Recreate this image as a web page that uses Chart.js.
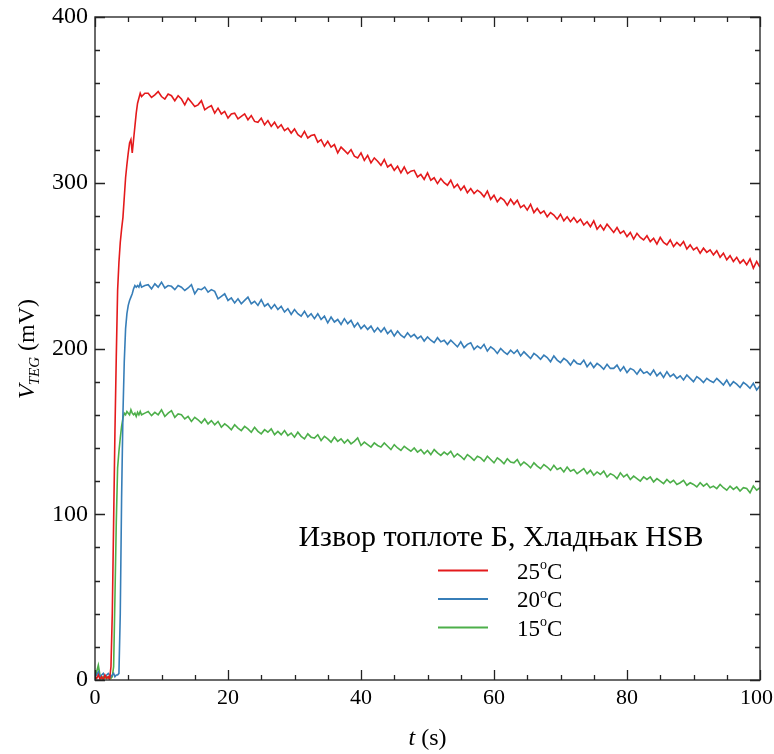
<!DOCTYPE html>
<html>
<head>
<meta charset="utf-8">
<script src="https://cdn.jsdelivr.net/npm/chart.js@4/dist/chart.umd.min.js"></script>
<style>
  html, body { margin: 0; padding: 0; background: #fff; }
  #wrap { width: 774px; height: 754px; }
</style>
</head>
<body>
<div id="wrap"><canvas id="c" width="774" height="754"></canvas></div>
<script>
// ---------- DATA ----------
const seriesLabels = ['25', '20', '15'];
const seriesColors = ['#e41a1c', '#377eb8', '#4daf4a'];
const legendTitle = 'Извор топлоте Б, Хладњак HSB';
const xTicks = [0, 20, 40, 60, 80, 100];
const yTicks = [0, 100, 200, 300, 400];

// start-up segment (s)
const riseTimes = [0, 0.25, 0.5, 0.75, 1.0, 1.25, 1.5, 1.75, 2.0, 2.2, 2.4, 2.6, 2.8, 3.0, 3.2, 3.4, 3.6, 3.8,
  4.0, 4.2, 4.4, 4.6, 4.8, 5.0, 5.2, 5.4, 5.6, 5.8, 6.0, 6.2, 6.4, 6.6, 6.8, 7.0, 7.5];
const rise25 = [2, 1, 3, 0.5, 2, 0, 3, 1, 2, 0.5, 8, 40, 95, 150, 195, 235, 252, 264,
  272, 279, 291, 303, 311, 318, 324, 326, 318, 326, 334, 342, 348, 351, 354, 352, 354];
const rise20 = [4, 3, 5, 2, 3, 4, 2, 3, 4, 3, 2, 3, 4, 2, 3, 3, 4, 40,
  110, 160, 192, 212, 221, 226, 229, 231, 233, 236, 238, 237, 238, 237, 239.5, 237, 238];
const rise15 = [2, 5, 9, 3, 1, 2, 1, 2, 1, 2, 1, 2, 8, 50, 95, 128, 138, 146,
  153, 158, 161, 160, 162, 161, 160, 163, 161, 160, 161, 159, 161.5, 160, 162, 160, 161];

// decay segment: t = 8.0 s ... 100 s, every 0.5 s
const decayStart = 8.0, decayStep = 0.5;
const decay25 = [
  354, 351.5, 353, 355, 352, 350.5, 353.5, 352.5, 349.5, 352.5,
  350.5, 347, 351, 348.5, 346, 347, 349.5, 344, 345.5, 346.5,
  342, 345, 341.5, 343, 339, 341.5, 342, 338.5, 340, 341.5,
  338, 340.5, 337, 336.5, 339, 335, 337.5, 334, 336.5, 333,
  335, 331.5, 333, 330, 332.5, 329, 327.5, 331, 327, 328.5,
  329, 324.5, 326, 322, 325, 321.5, 323, 318, 321.5, 319.5,
  317.5, 320, 316, 315, 318, 313.5, 316.5, 312, 315, 313,
  310.5, 314, 309.5, 311, 307.5, 310, 306, 309.5, 305.5, 307,
  307.5, 303.5, 305, 302, 306, 301.5, 303, 299.5, 302.5, 300,
  298.5, 301.5, 297, 299, 295.5, 298, 294, 296.5, 293.5, 295.5,
  294, 291.5, 295, 290, 292.5, 288.5, 291, 289.5, 286.5, 290,
  287, 289.5, 285, 286.5, 283.5, 287, 282, 284.5, 281.5, 283,
  279.5, 282, 280.5, 278, 281, 277, 279.5, 276.5, 279, 276,
  278, 274.5, 276.5, 273.5, 277, 272, 274.5, 271.5, 275, 272.5,
  270, 273, 269.5, 271, 267.5, 270, 266, 269.5, 267, 265.5,
  268, 264.5, 266.5, 263, 267, 264, 262.5, 265.5, 261.5, 264,
  262, 264.5, 260, 262.5, 259.5, 261, 257.5, 260.5, 258, 259.5,
  256.5, 259, 255, 257.5, 253.5, 256, 252.5, 255, 251.5, 253.5,
  250.5, 254, 248.5, 252.5, 249
];
const decay20 = [
  238.5, 236, 239, 237, 240, 236.5, 238, 237.5, 235.5, 238,
  237, 235, 236.5, 238.5, 233, 236, 235.5, 237, 234, 235.5,
  234.5, 230, 231.5, 233, 229, 230.5, 227.5, 230, 227, 229,
  231, 227, 228.5, 226, 229.5, 225.5, 227, 224, 226.5, 223.5,
  225.5, 222, 224, 220.5, 223.5, 221, 219.5, 222.5, 219, 221,
  218, 221, 217.5, 219.5, 215.5, 219, 216, 217.5, 214.5, 218,
  215, 217, 213, 215.5, 212, 214, 211.5, 213.5, 210, 212.5,
  210, 212.5, 209, 211, 207.5, 210.5, 208, 206.5, 209.5, 207,
  208.5, 206, 207.5, 204.5, 207, 205, 203.5, 206.5, 204, 205,
  202.5, 205, 203, 201, 204, 200.5, 202.5, 203.5, 199.5, 201.5,
  200, 202.5, 198.5, 201, 199.5, 197, 200, 198, 196.5, 199,
  197, 199, 195.5, 198, 196, 194, 197, 195.5, 193.5, 196,
  194.5, 192, 195.5, 193, 191.5, 194, 192.5, 190, 193, 191,
  190.5, 193, 189, 191.5, 188.5, 191, 189.5, 187.5, 190.5, 188,
  188, 190, 186.5, 189, 185.5, 188, 187, 184.5, 187.5, 185,
  186, 184, 187, 183.5, 185.5, 182.5, 186, 183, 184.5, 182,
  183.5, 181, 184, 182, 180, 183, 181.5, 179.5, 182, 180.5,
  179.5, 182, 180, 178, 181, 177.5, 180, 178.5, 176.5, 179.5,
  178, 176, 179, 175, 177.5
];
const decay15 = [
  162, 159.5, 161.5, 160, 163, 159, 161, 162.5, 158.5, 160.5,
  160, 157.5, 159, 156, 158.5, 157, 155, 157.5, 154.5, 156.5,
  154, 156, 152.5, 154.5, 153, 151, 154, 152, 150.5, 153,
  151.5, 149.5, 152.5, 150, 148.5, 151, 149.5, 151.5, 148, 150,
  148, 150.5, 147.5, 149, 146.5, 149.5, 147, 145.5, 148.5, 146.5,
  146, 148, 144.5, 147, 145.5, 143.5, 146.5, 144, 145.5, 143,
  145, 142.5, 144, 146, 141.5, 143.5, 142, 140.5, 143, 141.5,
  140.5, 143, 141, 139, 142, 140, 138.5, 141, 139.5, 138,
  140, 137.5, 139, 136.5, 138.5, 136, 139, 137, 135.5, 137.5,
  136, 138, 134.5, 136.5, 135, 133, 136, 134.5, 132.5, 135,
  134, 132, 135, 133, 131, 134, 132.5, 130.5, 133.5, 131.5,
  131, 133, 129.5, 131.5, 130, 128, 131, 129, 127.5, 130,
  128.5, 126.5, 129.5, 127, 128, 125.5, 128.5, 126, 127, 124.5,
  126, 127.5, 124.5, 126.5, 123.5, 125.5, 124, 126, 122.5, 124.5,
  123.5, 121.5, 125, 122.5, 124, 121, 123, 121.5, 120, 122.5,
  121, 122.5, 119.5, 121.5, 120, 118.5, 121, 119, 120.5, 118,
  119, 120.5, 117.5, 119, 118, 116.5, 119, 117, 118.5, 116,
  117, 115.5, 118, 116, 114.5, 117, 115, 116.5, 114, 116,
  115.5, 113, 117, 114.5, 116
];

// ---------- BUILD ----------
function buildPoints(riseVals, decayVals) {
  const pts = riseTimes.map((t, i) => ({ x: t, y: riseVals[i] }));
  decayVals.forEach((v, i) => pts.push({ x: decayStart + i * decayStep, y: v }));
  return pts;
}
const allSeries = [[rise25, decay25], [rise20, decay20], [rise15, decay15]];

const SERIF = '"Liberation Serif", "DejaVu Serif", serif';
const PLOT = { left: 95, top: 17, right: 14, xAxisH: 74 };
const xMinorStep = 5, yMinorStep = 20;

const framePlugin = {
  id: 'framePlugin',
  afterDatasetsDraw(chart) {
    const { ctx, chartArea: a, scales: { x, y } } = chart;
    ctx.save();
    ctx.strokeStyle = '#3a3a3a';
    ctx.lineWidth = 1.5;
    ctx.strokeRect(a.left, a.top, a.right - a.left, a.bottom - a.top);
    ctx.lineWidth = 1.3;
    ctx.strokeStyle = '#222';
    ctx.beginPath();
    for (let v = x.min; v <= x.max + 1e-9; v += xMinorStep) {
      const px = Math.round(x.getPixelForValue(v)) + 0.5;
      const len = xTicks.includes(v) ? 10 : 5;
      ctx.moveTo(px, a.bottom); ctx.lineTo(px, a.bottom - len);
      ctx.moveTo(px, a.top); ctx.lineTo(px, a.top + len);
    }
    for (let v = y.min; v <= y.max + 1e-9; v += yMinorStep) {
      const py = Math.round(y.getPixelForValue(v)) + 0.5;
      const len = yTicks.includes(v) ? 10 : 5;
      ctx.moveTo(a.left, py); ctx.lineTo(a.left + len, py);
      ctx.moveTo(a.right, py); ctx.lineTo(a.right - len, py);
    }
    ctx.stroke();

    ctx.fillStyle = '#000';
    // x tick labels (kept inside the canvas at the right edge)
    ctx.font = '22px ' + SERIF;
    ctx.textBaseline = 'top';
    ctx.textAlign = 'left';
    xTicks.forEach(v => {
      const s = String(v);
      const w = ctx.measureText(s).width;
      let lx = x.getPixelForValue(v) - w / 2;
      lx = Math.min(lx, chart.width - 1 - w);
      ctx.fillText(s, lx, a.bottom + 7);
    });

    // axis titles
    const cx = (a.left + a.right) / 2;
    ctx.textBaseline = 'alphabetic';
    ctx.font = 'italic 24px ' + SERIF;
    const wT = ctx.measureText('t').width;
    ctx.font = '24px ' + SERIF;
    const wS = ctx.measureText(' (s)').width;
    const sx = cx - (wT + wS) / 2;
    ctx.font = 'italic 24px ' + SERIF;
    ctx.fillText('t', sx, 745);
    ctx.font = '24px ' + SERIF;
    ctx.fillText(' (s)', sx + wT, 745);

    // y title: V_TEG (mV)
    ctx.save();
    ctx.translate(34, (a.top + a.bottom) / 2);
    ctx.rotate(-Math.PI / 2);
    ctx.font = 'italic 24px ' + SERIF;
    const wV = ctx.measureText('V').width;
    ctx.font = 'italic 15px ' + SERIF;
    const wTEG = ctx.measureText('TEG').width;
    ctx.font = '24px ' + SERIF;
    const wMV = ctx.measureText(' (mV)').width;
    const ox = -(wV + wTEG + wMV) / 2;
    ctx.font = 'italic 24px ' + SERIF;
    ctx.fillText('V', ox, 0);
    ctx.font = 'italic 15px ' + SERIF;
    ctx.fillText('TEG', ox + wV - 1, 5);
    ctx.font = '24px ' + SERIF;
    ctx.fillText(' (mV)', ox + wV + wTEG - 1, 0);
    ctx.restore();

    // legend
    ctx.textAlign = 'center';
    ctx.font = '30px ' + SERIF;
    ctx.fillText(legendTitle, 501, 546);
    ctx.textAlign = 'left';
    chart.data.datasets.forEach((ds, i) => {
      const ly = 570.5 + i * 28.5;
      ctx.strokeStyle = ds.borderColor;
      ctx.lineWidth = 2;
      ctx.beginPath();
      ctx.moveTo(438, ly); ctx.lineTo(488, ly);
      ctx.stroke();
      ctx.fillStyle = '#000';
      ctx.font = '23px ' + SERIF;
      const num = seriesLabels[i];
      ctx.fillText(num, 517, ly + 8);
      const wn = ctx.measureText(num).width;
      ctx.font = '14px ' + SERIF;
      ctx.fillText('o', 517 + wn, ly - 1.5);
      const wo = ctx.measureText('o').width;
      ctx.font = '23px ' + SERIF;
      ctx.fillText('C', 517 + wn + wo, ly + 8);
    });
    ctx.restore();
  }
};

new Chart(document.getElementById('c'), {
  type: 'line',
  data: {
    datasets: allSeries.map((s, i) => ({
      label: seriesLabels[i] + '°C',
      data: buildPoints(s[0], s[1]),
      borderColor: seriesColors[i],
      borderWidth: 1.6,
      pointRadius: 0,
      tension: 0,
      fill: false
    }))
  },
  options: {
    responsive: false,
    animation: false,
    layout: { padding: { left: 0, top: PLOT.top, right: PLOT.right, bottom: 0 } },
    plugins: { legend: { display: false }, tooltip: { enabled: false } },
    scales: {
      x: {
        type: 'linear', min: 0, max: 100,
        afterFit: (s) => { s.height = PLOT.xAxisH; s.paddingLeft = 0; s.paddingRight = 0; },
        afterBuildTicks: (s) => { s.ticks = xTicks.map(v => ({ value: v })); },
        grid: { display: false, drawTicks: false },
        border: { display: false },
        ticks: { display: false }
      },
      y: {
        type: 'linear', min: 0, max: 400,
        afterFit: (s) => { s.width = PLOT.left; s.paddingTop = 0; s.paddingBottom = 0; },
        afterBuildTicks: (s) => { s.ticks = yTicks.map(v => ({ value: v })); },
        grid: { display: false, drawTicks: false },
        border: { display: false },
        ticks: { autoSkip: false, padding: 7, color: '#000', font: { family: SERIF, size: 24 } }
      }
    }
  },
  plugins: [framePlugin]
});
</script>
</body>
</html>
